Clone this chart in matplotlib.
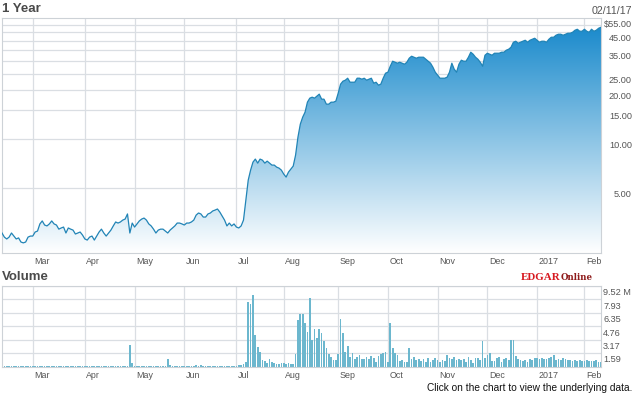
import matplotlib
matplotlib.use("Agg")
import matplotlib.pyplot as plt
import matplotlib.transforms as mtransforms
import numpy as np
from matplotlib.colors import to_rgb
from matplotlib.patches import Polygon
from matplotlib.ticker import NullFormatter

plt.rcParams["font.family"] = ["Liberation Sans", "DejaVu Sans"]

# daily closes, one per trading session (Feb 10 2016 .. Feb 10 2017)
close = [
    2.84, 2.68, 2.61, 2.68, 2.84, 2.72, 2.61, 2.65, 2.50, 2.47,
    2.50, 2.68, 2.72, 2.72, 2.88, 2.92, 3.23, 3.37, 3.18, 3.14,
    3.23, 3.37, 3.23, 3.18, 3.00, 3.05, 3.09, 2.84, 3.05, 3.00,
    2.96, 2.80, 2.84, 2.88, 2.76, 2.61, 2.57, 2.68, 2.72, 2.57,
    2.72, 2.88, 3.00, 2.84, 2.72, 2.84, 2.96, 3.14, 3.32, 3.27,
    3.32, 3.41, 3.46, 3.72, 2.84, 3.27, 3.09, 3.23, 3.37, 3.46,
    3.51, 3.41, 3.23, 3.14, 3.00, 2.84, 2.96, 3.00, 3.00, 2.92,
    2.84, 2.96, 3.05, 3.14, 3.27, 3.27, 3.23, 3.18, 3.27, 3.27,
    3.32, 3.41, 3.66, 3.77, 3.72, 3.56, 3.56, 3.72, 3.77, 3.88,
    3.93, 3.99, 3.82, 3.61, 3.41, 3.14, 3.27, 3.14, 3.23, 3.09,
    3.05, 3.14, 3.41, 4.53, 6.01, 6.92, 7.75, 8.09, 7.64, 8.09,
    7.97, 7.64, 7.86, 7.64, 7.43, 7.43, 7.22, 7.12, 6.92, 6.54,
    6.27, 6.73, 7.02, 7.33, 8.56, 11.04, 13.27, 14.65, 15.72, 18.11,
    19.17, 19.44, 19.17, 19.72, 20.29, 18.90, 18.90, 17.61, 17.61, 18.11,
    18.11, 18.37, 20.57, 23.37, 24.38, 24.72, 25.43, 24.03, 24.03, 24.03,
    25.43, 25.43, 25.08, 25.43, 24.72, 25.08, 25.43, 23.70, 24.03, 23.04,
    23.37, 25.43, 27.30, 27.69, 30.14, 32.35, 31.89, 31.45, 31.89, 31.45,
    31.00, 31.89, 33.75, 34.72, 34.23, 33.75, 34.23, 34.23, 34.23, 33.28,
    32.35, 31.45, 29.72, 27.69, 26.54, 25.43, 25.43, 25.43, 25.80, 27.69,
    31.45, 28.89, 27.69, 31.00, 32.81, 32.35, 32.35, 34.23, 36.74, 35.72,
    34.23, 33.28, 31.89, 30.14, 35.21, 36.22, 35.72, 35.21, 36.22, 36.22,
    36.22, 36.74, 36.74, 37.80, 38.33, 39.43, 42.32, 42.93, 41.73, 42.32,
    42.93, 43.54, 42.32, 43.54, 44.16, 44.79, 43.54, 42.32, 42.93, 42.93,
    42.32, 44.16, 45.42, 45.42, 46.73, 47.39, 47.39, 46.73, 47.39, 48.07,
    48.07, 48.75, 50.15, 50.87, 49.45, 49.45, 50.87, 49.45, 48.75, 50.87,
    49.45, 50.15, 51.59, 52.33,
]

# daily volume, millions of shares
volume_m = [
    0.1, 0.1, 0.1, 0.1, 0.1, 0.1, 0.1, 0.1, 0.1, 0.1,
    0.1, 0.1, 0.1, 0.1, 0.1, 0.1, 0.1, 0.1, 0.1, 0.1,
    0.1, 0.1, 0.1, 0.1, 0.1, 0.1, 0.1, 0.1, 0.1, 0.1,
    0.1, 0.1, 0.1, 0.1, 0.1, 0.1, 0.1, 0.1, 0.1, 0.1,
    0.1, 0.1, 0.1, 0.1, 0.1, 0.1, 0.1, 0.1, 0.1, 0.1,
    0.1, 0.1, 0.1, 0.12, 2.55, 0.4, 0.12, 0.1, 0.1, 0.1,
    0.1, 0.1, 0.1, 0.1, 0.1, 0.1, 0.1, 0.1, 0.1, 0.1,
    0.9, 0.15, 0.1, 0.1, 0.1, 0.1, 0.1, 0.1, 0.1, 0.1,
    0.1, 0.1, 0.2, 0.12, 0.25, 0.12, 0.1, 0.1, 0.1, 0.1,
    0.1, 0.1, 0.1, 0.1, 0.1, 0.1, 0.1, 0.1, 0.12, 0.12,
    0.15, 0.2, 0.3, 0.55, 7.65, 7.4, 8.5, 3.75, 2.35, 1.7,
    0.8, 0.63, 0.45, 0.9, 0.6, 0.45, 0.35, 0.35, 0.4, 0.45,
    0.35, 0.4, 0.3, 0.35, 1.55, 5.5, 6.2, 6.25, 5.2, 4.15,
    8.05, 3.1, 4.5, 3.4, 4.5, 4.0, 3.0, 2.2, 1.5, 1.1,
    0.8, 0.8, 1.5, 5.65, 3.98, 1.75, 2.42, 1.09, 1.56, 0.86,
    1.09, 1.36, 0.86, 0.86, 1.09, 0.86, 1.25, 0.97, 0.58, 1.25,
    1.48, 1.64, 1.75, 0.58, 5.15, 2.22, 1.56, 1.36, 0.7, 0.78,
    0.58, 0.6, 2.26, 0.86, 1.09, 0.78, 0.86, 0.7, 0.86, 0.58,
    0.97, 0.58, 0.78, 0.97, 0.78, 0.58, 0.78, 0.7, 1.36, 0.97,
    0.86, 1.09, 0.78, 0.86, 0.78, 0.86, 0.58, 1.09, 0.78, 0.47,
    0.97, 0.97, 0.8, 3.05, 0.97, 1.36, 1.64, 0.7, 0.7, 0.97,
    1.09, 0.58, 0.86, 0.97, 0.78, 3.12, 3.2, 1.25, 0.86, 0.78,
    0.7, 0.78, 0.58, 0.86, 0.78, 0.97, 0.97, 0.86, 0.97, 0.86,
    0.86, 0.97, 1.09, 1.36, 0.78, 0.86, 0.78, 0.97, 0.86, 0.78,
    0.78, 0.7, 0.78, 0.7, 0.78, 0.7, 0.7, 0.78, 0.7, 0.7,
    0.7, 0.78, 0.58, 0.6,
]

# session index of the first trading day of each month
month_start = [13, 35, 56, 77, 99, 119, 142, 163, 184, 205, 226, 246]
month_labels = ["Mar", "Apr", "May", "Jun", "Jul", "Aug", "Sep", "Oct", "Nov", "Dec", "2017", "Feb"]

price_ticks = [5, 10, 15, 20, 25, 35, 45, 55]
price_tick_labels = ["5.00", "10.00", "15.00", "20.00", "25.00", "35.00", "45.00", "$55.00"]
price_grid = [5.4, 10.8, 16.2, 21.6, 27.0, 32.4, 37.8, 43.2, 48.6, 54.0]

volume_ticks = [1.59, 3.17, 4.76, 6.35, 7.93, 9.52]
volume_tick_labels = ["1.59", "3.17", "4.76", "6.35", "7.93", "9.52 M"]

W, H = 634, 395
GRID = "#dadee3"
SPINE = "#cdd2d7"
LABEL = "#555555"


def fig_xy(x, y):
    return x / W, 1 - y / H


days = np.arange(len(close))
fig = plt.figure(figsize=(W / 100, H / 100), dpi=100)
ax = fig.add_axes([2 / W, 1 - 253 / H, 599 / W, (253 - 18.3) / H])
axv = fig.add_axes([2 / W, 1 - 366.7 / H, 599 / W, (366.7 - 286) / H])

# price panel
ax.set_yscale("log")

top = np.array(to_rgb("#1286ca"))
bottom = np.array([1.0, 1.0, 1.0])
frac = np.linspace(0, 1, 256)[:, None]
grad = (bottom + (top - bottom) * frac)[:, None, :]
im = ax.imshow(grad, extent=[0, 1, 0, 1], transform=ax.transAxes,
               aspect="auto", origin="lower", zorder=1, interpolation="bilinear")
verts = [(0, 2.14)] + list(zip(days, close)) + [(days[-1], 2.14)]
area = Polygon(verts, closed=True, transform=ax.transData, facecolor="none", edgecolor="none")
ax.add_patch(area)
im.set_clip_path(area)
ax.plot(days, close, color="#2184b6", lw=0.9, zorder=3)
ax.set_xlim(0, len(close) - 1)
ax.set_ylim(2.14, 59.4)

ax.set_yticks(price_ticks, labels=price_tick_labels)
ax.set_yticks(price_grid, minor=True)
ax.yaxis.set_minor_formatter(NullFormatter())
ax.yaxis.tick_right()
ax.tick_params(axis="y", which="both", length=0, pad=22.3, labelsize=6.6, labelcolor=LABEL)
for lbl in ax.get_yticklabels():
    lbl.set_horizontalalignment("right")

xshift = mtransforms.ScaledTranslation(1.5 / 100, 0, fig.dpi_scale_trans)
for a in (ax, axv):
    a.set_xticks(month_start, labels=month_labels)
    a.tick_params(axis="x", length=0, pad=3.2, labelsize=6.4, labelcolor=LABEL)
    for lbl in a.get_xticklabels():
        lbl.set_horizontalalignment("left")
        lbl.set_transform(lbl.get_transform() + xshift)
    a.set_axisbelow(True)
    a.grid(True, axis="x", which="major", color=GRID, lw=0.9)
    for s in a.spines.values():
        s.set_color(SPINE)
        s.set_linewidth(0.8)

ax.yaxis.grid(True, which="minor", color=GRID, lw=0.9)
ax.yaxis.grid(False, which="major")

# volume panel
axv.bar(days, volume_m, width=0.72, color="#6cb7ce", edgecolor="none", zorder=2)
axv.set_xlim(0, len(close) - 1)
axv.set_ylim(0, 9.52)
axv.set_yticks(volume_ticks, labels=volume_tick_labels)
axv.yaxis.tick_right()
axv.tick_params(axis="y", length=0, pad=1.5, labelsize=6.6, labelcolor=LABEL)
axv.yaxis.grid(True, color=GRID, lw=0.9)
yshift = mtransforms.ScaledTranslation(0, -5.7 / 100, fig.dpi_scale_trans)
for lbl in axv.get_yticklabels():
    lbl.set_transform(lbl.get_transform() + yshift)

# header and footer texts
fig.text(*fig_xy(2, 9.5), "1 Year", ha="left", va="center", fontsize=9.5,
         fontweight="bold", color="#4a4a4a")
fig.text(*fig_xy(2, 277.5), "Volume", ha="left", va="center", fontsize=9.5,
         fontweight="bold", color="#4a4a4a")
fig.text(*fig_xy(632, 11), "02/11/17", ha="right", va="center", fontsize=7.7, color=LABEL)
fig.text(*fig_xy(520.5, 279.5), "EDGAR", ha="left", va="baseline", fontsize=7.9,
         fontweight="bold", family="Liberation Serif", color="#d71920")
fig.text(*fig_xy(560.5, 279.5), "Online", ha="left", va="baseline", fontsize=6.2,
         fontweight="bold", family="DejaVu Serif", color="#8e1b1b")
fig.text(*fig_xy(632, 388), "Click on the chart to view the underlying data.",
         ha="right", va="center", fontsize=7.3, color="#111111")

fig.savefig("out.png", dpi=100)
plt.close(fig)
